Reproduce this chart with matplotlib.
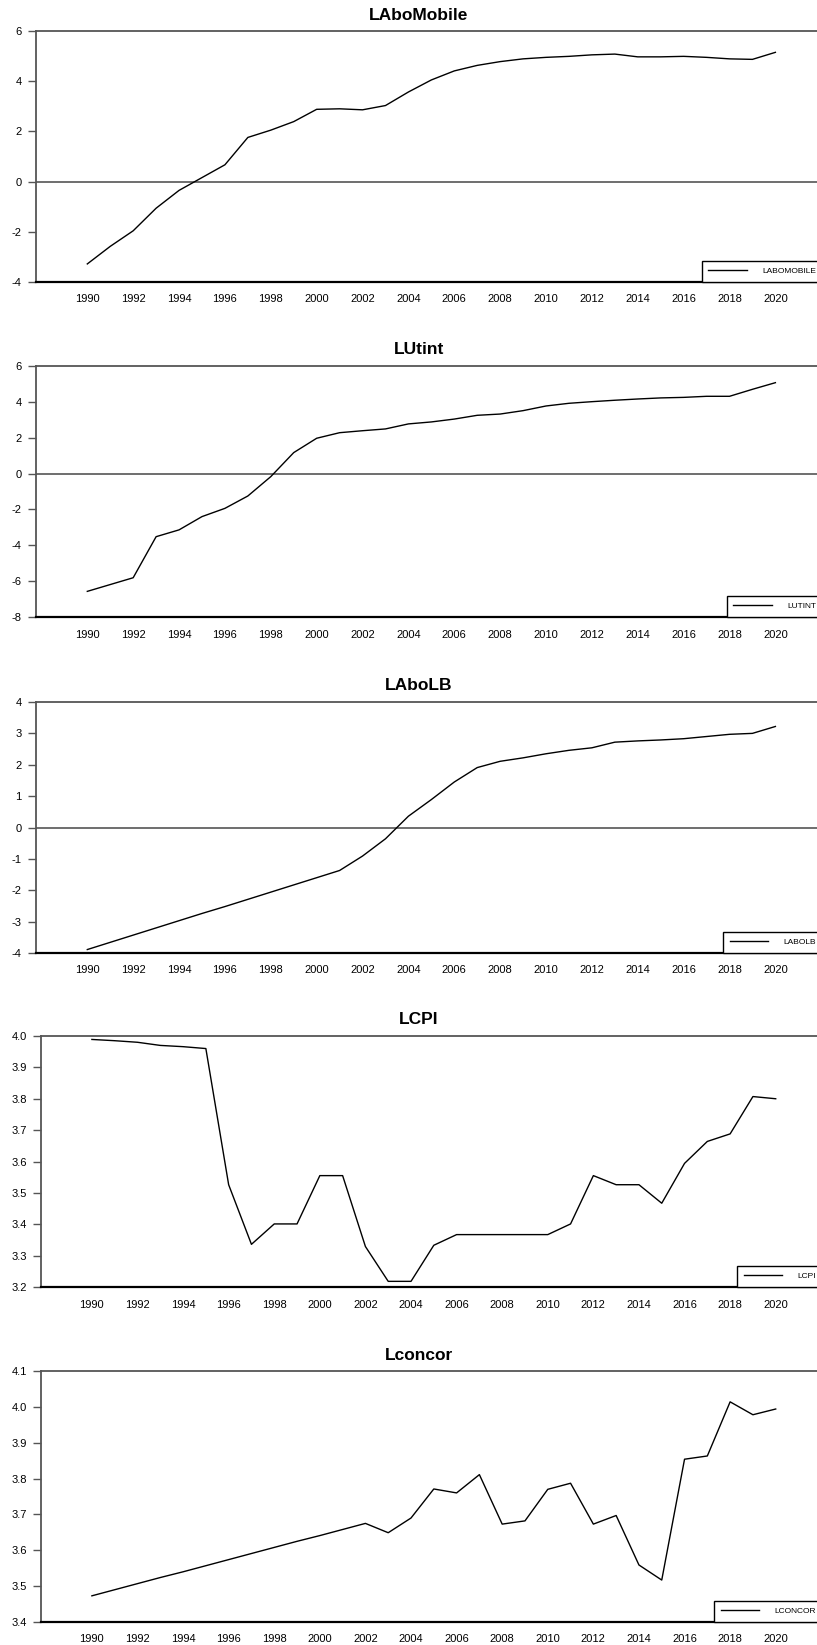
import numpy as np
import matplotlib
matplotlib.use("Agg")
import matplotlib.pyplot as plt

plt.rcParams['font.family'] = ['Liberation Sans', 'DejaVu Sans']

years = list(range(1990, 2021))

# values
labomobile = [-3.28, -2.58, -1.96, -1.06, -0.35, 0.16, 0.67, 1.76, 2.05, 2.39,
              2.88, 2.90, 2.86, 3.03, 3.57, 4.05, 4.41, 4.63, 4.78, 4.89,
              4.95, 4.99, 5.05, 5.08, 4.97, 4.97, 4.99, 4.95, 4.89, 4.87, 5.15]
lutint = [-6.57, -6.19, -5.81, -3.52, -3.14, -2.40, -1.94, -1.25, -0.17, 1.17,
          1.97, 2.28, 2.39, 2.49, 2.77, 2.88, 3.04, 3.25, 3.32, 3.51,
          3.77, 3.92, 4.01, 4.09, 4.16, 4.22, 4.25, 4.31, 4.31, 4.70, 5.07]
labolb = [-3.89, -3.66, -3.43, -3.20, -2.97, -2.74, -2.52, -2.29, -2.06, -1.83,
          -1.60, -1.37, -0.91, -0.36, 0.36, 0.89, 1.45, 1.91, 2.11, 2.22,
          2.35, 2.46, 2.54, 2.72, 2.76, 2.79, 2.83, 2.90, 2.97, 3.00, 3.22]
lcpi = [3.989, 3.985, 3.980, 3.970, 3.966, 3.960, 3.526, 3.336, 3.401, 3.401,
        3.555, 3.555, 3.329, 3.218, 3.218, 3.333, 3.367, 3.367, 3.367, 3.367,
        3.367, 3.401, 3.555, 3.526, 3.526, 3.467, 3.594, 3.664, 3.688, 3.807, 3.800]
lconcor = [3.473, 3.490, 3.507, 3.524, 3.540, 3.557, 3.574, 3.591, 3.608, 3.625,
           3.641, 3.658, 3.675, 3.649, 3.690, 3.771, 3.760, 3.811, 3.673, 3.682,
           3.770, 3.787, 3.673, 3.697, 3.559, 3.517, 3.854, 3.863, 4.014, 3.978, 3.994]

titles = ["LAboMobile", "LUtint", "LAboLB", "LCPI", "Lconcor"]
legend_labels = ["LABOMOBILE", "LUTINT", "LABOLB", "LCPI", "LCONCOR"]
series = [labomobile, lutint, labolb, lcpi, lconcor]
ylims = [(-4, 6), (-8, 6), (-4, 4), (3.2, 4.0), (3.4, 4.1)]
ysteps = [2, 2, 1, 0.1, 0.1]
yfmt = ["%d", "%d", "%d", "%.1f", "%.1f"]

# layout in pixels
W, H = 817, 1645
tops = [31, 366, 702, 1036, 1371]
lefts = [35.7, 35.7, 35.7, 40.6, 40.6]
right = 827
ax_h = 251

fig = plt.figure(figsize=(W / 100, H / 100), dpi=100)

for i in range(5):
    L = lefts[i]
    ax = fig.add_axes([L / W, 1 - (tops[i] + ax_h) / H, (right - L) / W, ax_h / H])
    ax.plot(years, series[i], color='black', lw=1.0, label=legend_labels[i])
    lo, hi = ylims[i]
    ax.set_xlim(1987.75, 2022.25)
    ax.set_ylim(lo, hi)
    if lo < 0 < hi:
        ax.axhline(0, color='#555555', lw=1.2, zorder=1)
    ax.set_xticks(years[::2])
    ax.set_xticklabels([str(y) for y in years[::2]])
    yt = np.arange(lo, hi + ysteps[i] / 2, ysteps[i])
    ax.set_yticks(yt)
    ax.set_yticklabels([yfmt[i] % v for v in yt])
    ax.tick_params(axis='x', length=0, pad=9, labelsize=8)
    ax.tick_params(axis='y', length=6, width=1, color='#555555', pad=4, labelsize=8)
    ax.spines['right'].set_visible(False)
    ax.spines['top'].set_color('#555555')
    ax.spines['top'].set_linewidth(1.3)
    ax.spines['left'].set_color('#555555')
    ax.spines['left'].set_linewidth(1.3)
    ax.spines['bottom'].set_color('black')
    ax.spines['bottom'].set_linewidth(1.6)

    fig.text(419 / W, 1 - (tops[i] - 16) / H, titles[i], ha='center', va='center',
             fontsize=12.5, fontweight='bold')

    leg = ax.legend(loc='lower right', bbox_to_anchor=((823 - L) / (right - L), 0),
                    bbox_transform=ax.transAxes, borderaxespad=0, fancybox=False,
                    edgecolor='black', framealpha=1, fontsize=6, handlelength=4.6,
                    handletextpad=1.9, borderpad=0.8)
    leg.get_frame().set_linewidth(1.0)

fig.savefig("out.png", dpi=100)
